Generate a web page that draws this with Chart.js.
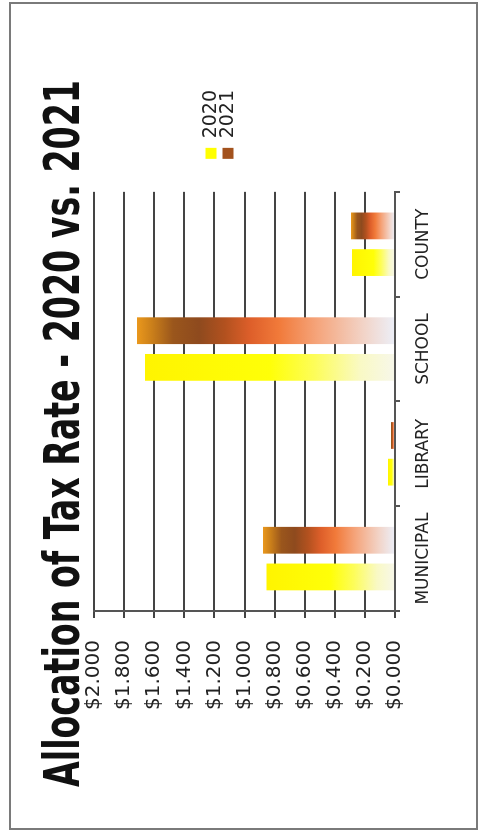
<!DOCTYPE html>
<html>
<head>
<meta charset="utf-8">
<title>Allocation of Tax Rate - 2020 vs. 2021</title>
<script src="https://cdn.jsdelivr.net/npm/chart.js@4/dist/chart.umd.min.js"></script>
<style>
  html, body { margin: 0; padding: 0; background: #fff; width: 483px; height: 834px; overflow: hidden; }
  /* The chart is laid out landscape and turned a quarter turn counter-clockwise */
  #stage {
    position: absolute; left: 0; top: 834px;
    width: 834px; height: 483px;
    transform-origin: 0 0; transform: rotate(-90deg);
    background: #fff;
  }
  #frame {
    position: absolute; left: 4px; top: 9px; width: 828px; height: 469px;
    box-sizing: border-box; border: 2px solid #7a7a7a;
  }
  #chart { position: absolute; left: 0; top: 0; }
</style>
</head>
<body>
<div id="stage">
  <canvas id="chart" width="834" height="483"></canvas>
  <div id="frame"></div>
</div>
<script>
// Tax rate allocation per taxing unit, dollars per $100 valuation
const categories = ['MUNICIPAL', 'LIBRARY', 'SCHOOL', 'COUNTY'];
const seriesNames = ['2020', '2021'];
const rates2020 = [0.854, 0.047, 1.661, 0.286];
const rates2021 = [0.877, 0.027, 1.714, 0.292];
const valueTicks = [0, 0.2, 0.4, 0.6, 0.8, 1.0, 1.2, 1.4, 1.6, 1.8, 2.0];

const FONT = "'DejaVu Sans', 'Liberation Sans', sans-serif";
const TITLE_FONT = "'Liberation Sans Narrow', 'DejaVu Sans Condensed', 'Liberation Sans', sans-serif";

// colour stops run from the bar base (0) to the bar tip (1)
const yellowStops = [
  [0, '#f7f7ea'], [0.14, '#f9f9c4'], [0.32, '#fdfd5a'], [0.5, '#ffff08'], [1, '#fff400']
];
const copperStops = [
  [0, '#eceff8'], [0.12, '#f2d4c8'], [0.3, '#f5a57c'], [0.45, '#f17a3a'],
  [0.56, '#de5f2a'], [0.66, '#b2511f'], [0.76, '#8e4a1e'], [0.86, '#9a561c'], [0.94, '#c97e1a'], [1, '#ea981c']
];
const legendSwatches = ['#ffff00', '#a3521d'];

function barFill(stops, solid) {
  return (ctx) => {
    if (ctx.type !== 'data' || !ctx.chart.chartArea) return solid;
    const chart = ctx.chart;
    const y = chart.scales.y;
    const base = y.getPixelForValue(0);
    const tip = y.getPixelForValue(ctx.parsed.y);
    if (!isFinite(base) || !isFinite(tip) || base === tip) return solid;
    const g = chart.ctx.createLinearGradient(0, base, 0, tip);
    stops.forEach(([o, c]) => g.addColorStop(o, c));
    return g;
  };
}

new Chart(document.getElementById('chart'), {
  type: 'bar',
  data: {
    labels: categories,
    datasets: [
      { label: seriesNames[0], data: rates2020, backgroundColor: barFill(yellowStops, legendSwatches[0]), borderWidth: 0 },
      { label: seriesNames[1], data: rates2021, backgroundColor: barFill(copperStops, legendSwatches[1]), borderWidth: 0 }
    ]
  },
  options: {
    responsive: false,
    animation: false,
    devicePixelRatio: 1,
    layout: { padding: { left: 47, right: 80, top: 10, bottom: 54 } },
    datasets: { bar: { categoryPercentage: 0.70, barPercentage: 0.73 } },
    scales: {
      x: {
        grid: { offset: true, drawOnChartArea: false, drawTicks: true, tickLength: 5, color: '#555', lineWidth: 2 },
        border: { display: true, color: '#555', width: 2 },
        ticks: { color: '#222', font: { family: FONT, size: 17 }, padding: 13, maxRotation: 0, minRotation: 0 },
        afterFit: (s) => { s.height = 34; }
      },
      y: {
        min: 0, max: 2,
        afterBuildTicks: (s) => { s.ticks = valueTicks.map(v => ({ value: v })); },
        grid: { color: '#444', lineWidth: 2, tickLength: 7 },
        border: { display: true, color: '#555', width: 2 },
        ticks: {
          color: '#222', font: { family: FONT, size: 20 }, padding: 22,
          callback: (v) => '$' + Number(v).toFixed(3)
        },
        afterFit: (s) => { s.width = 176; }
      },
      gap: {
        type: 'linear', position: 'right', display: true,
        grid: { display: false }, border: { display: false }, ticks: { display: false },
        afterFit: (s) => { s.width = 33; }
      }
    },
    plugins: {
      title: {
        display: true,
        text: 'Allocation of Tax Rate - 2020 vs. 2021',
        align: 'start',
        color: '#111',
        font: { family: TITLE_FONT, size: 49, weight: 'bold', lineHeight: 1 },
        padding: { top: 31.5, bottom: 3.5 }
      },
      legend: {
        position: 'right',
        align: 'center',
        labels: {
          boxWidth: 13, boxHeight: 11, padding: -2, color: '#222',
          font: { family: FONT, size: 19 },
          generateLabels: (chart) => Chart.defaults.plugins.legend.labels.generateLabels(chart).map((item, i) => {
            item.fillStyle = legendSwatches[i];
            item.strokeStyle = legendSwatches[i];
            item.lineWidth = 0;
            return item;
          })
        }
      },
      tooltip: { enabled: false }
    }
  }
});
</script>
</body>
</html>
